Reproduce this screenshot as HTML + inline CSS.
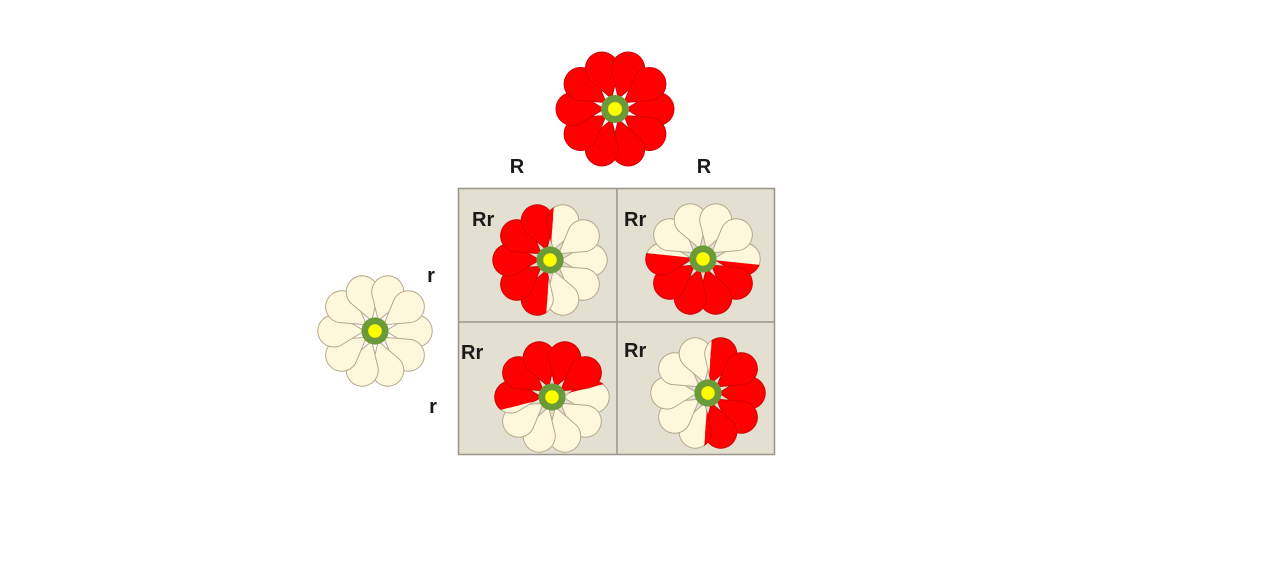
<!DOCTYPE html>
<html><head><meta charset="utf-8"><style>
html,body{margin:0;padding:0;background:#fff;}
svg{display:block}
text{font-family:"Liberation Sans",Arial,sans-serif;font-weight:bold;fill:#1a1a1a}
</style></head><body>
<svg width="1284" height="588" viewBox="0 0 1284 588" xmlns="http://www.w3.org/2000/svg">
<defs>
  <path id="pet" d="M11,0 L33,-13.5 A16.5,16.5 0 1 1 33,13.5 Z"/>
  <g id="cream">
    <g fill="#fdf8dc" stroke="#b3a68a" stroke-width="1">
      <use href="#pet" transform="rotate(0)"/><use href="#pet" transform="rotate(36)"/>
      <use href="#pet" transform="rotate(72)"/><use href="#pet" transform="rotate(108)"/>
      <use href="#pet" transform="rotate(144)"/><use href="#pet" transform="rotate(180)"/>
      <use href="#pet" transform="rotate(216)"/><use href="#pet" transform="rotate(252)"/>
      <use href="#pet" transform="rotate(288)"/><use href="#pet" transform="rotate(324)"/>
    </g>
  </g>
  <g id="red">
    <g fill="#ff0000" stroke="#d40000" stroke-width="1">
      <use href="#pet" transform="rotate(0)"/><use href="#pet" transform="rotate(36)"/>
      <use href="#pet" transform="rotate(72)"/><use href="#pet" transform="rotate(108)"/>
      <use href="#pet" transform="rotate(144)"/><use href="#pet" transform="rotate(180)"/>
      <use href="#pet" transform="rotate(216)"/><use href="#pet" transform="rotate(252)"/>
      <use href="#pet" transform="rotate(288)"/><use href="#pet" transform="rotate(324)"/>
    </g>
  </g>
  <g id="ctr">
    <circle r="14" fill="#6a9a3a"/>
    <circle r="7" fill="#ffff00" stroke="#c8c800" stroke-width="0.5"/>
  </g>
  <clipPath id="half" clipPathUnits="userSpaceOnUse"><rect x="-100" y="-100" width="100" height="200"/></clipPath>
</defs>

<rect x="458.5" y="188.5" width="316" height="266" fill="#e3dfd1" stroke="#9a958a" stroke-width="1.5"/>
<line x1="617" y1="189" x2="617" y2="455" stroke="#9a958a" stroke-width="1.5"/>
<line x1="459" y1="322" x2="775" y2="322" stroke="#9a958a" stroke-width="1.5"/>

<g transform="translate(615,109)"><use href="#red"/><use href="#ctr"/></g>
<g transform="translate(375,331) scale(0.97)"><use href="#cream"/><use href="#ctr"/></g>

<g transform="translate(550,260) scale(0.97)">
  <use href="#cream"/>
  <g transform="rotate(4)" clip-path="url(#half)"><g transform="rotate(-4)"><use href="#red"/></g></g>
  <use href="#ctr"/>
</g>
<g transform="translate(703,259) scale(0.97)">
  <use href="#cream"/>
  <g transform="rotate(-84)" clip-path="url(#half)"><g transform="rotate(84)"><use href="#red"/></g></g>
  <use href="#ctr"/>
</g>
<g transform="translate(552,397) scale(0.97)">
  <use href="#cream"/>
  <g transform="rotate(76)" clip-path="url(#half)"><g transform="rotate(-76)"><use href="#red"/></g></g>
  <use href="#ctr"/>
</g>
<g transform="translate(708,393) scale(0.97)">
  <use href="#cream"/>
  <g transform="rotate(184)" clip-path="url(#half)"><g transform="rotate(-184)"><use href="#red"/></g></g>
  <use href="#ctr"/>
</g>

<text x="517" y="173" font-size="20" text-anchor="middle">R</text>
<text x="704" y="173" font-size="20" text-anchor="middle">R</text>
<text x="431" y="282" font-size="20" text-anchor="middle">r</text>
<text x="433" y="413" font-size="20" text-anchor="middle">r</text>
<text x="472" y="226" font-size="20">Rr</text>
<text x="624" y="226" font-size="20">Rr</text>
<text x="461" y="359" font-size="20">Rr</text>
<text x="624" y="357" font-size="20">Rr</text>
</svg>
</body></html>
